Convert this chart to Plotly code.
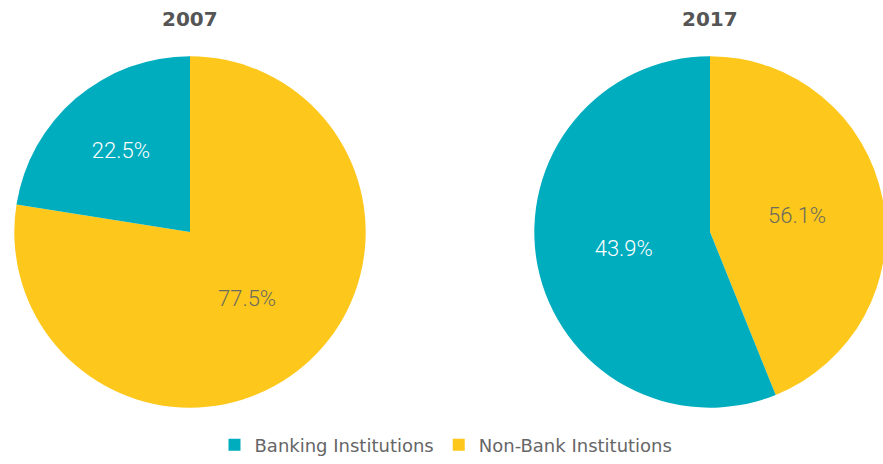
import plotly.graph_objects as go

years = ["2007", "2017"]
# slice order as drawn clockwise from 12 o'clock
categories = ["Non-Bank Institutions", "Banking Institutions"]
# slice sizes as drawn in the picture
shares_2007 = [77.5, 22.5]
shares_2017 = [43.9, 56.1]
# labels as printed on the picture
text_2007 = ["77.5%", "22.5%"]
text_2017 = ["56.1%", "43.9%"]

colors = ["#FEC71B", "#00ADBE"]
text_colors = ["#6B6B5E", "#FFFFFF"]

W, H = 888, 464  # right pie overhangs the 883px window, as in the reference

def dom(x0, x1, top, bottom):
    return dict(x=[x0 / W, x1 / W], y=[(H - bottom) / H, (H - top) / H])

domains = [dom(12, 368, 57, 413), dom(532, 888, 57, 413)]

fig = go.Figure()
for yr, vals, txt, d in [
    (years[0], shares_2007, text_2007, domains[0]),
    (years[1], shares_2017, text_2017, domains[1]),
]:
    fig.add_trace(go.Pie(
        labels=categories, values=vals, text=txt,
        textinfo="text", textposition="inside",
        insidetextorientation="horizontal",
        sort=False, direction="clockwise", rotation=0,
        marker=dict(colors=colors, line=dict(width=0)),
        textfont=dict(family="Roboto", size=22, weight=300, color=text_colors),
        domain=d, hoverinfo="label+text",
    ))

for yr, cx in zip(years, [190, 710]):
    fig.add_annotation(
        text="<b>" + yr + "</b>", xref="paper", yref="paper",
        x=cx / W, y=(H - 19) / H,
        xanchor="center", yanchor="middle", showarrow=False,
        font=dict(family="DejaVu Sans", size=20, color="#555555"),
    )

fig.update_layout(
    width=W, height=H,
    margin=dict(l=0, r=0, t=0, b=0),
    paper_bgcolor="white", plot_bgcolor="white",
    showlegend=True,
    legend=dict(orientation="h", x=446 / W, xanchor="center",
                y=(H - 451) / H, yanchor="middle",
                font=dict(family="DejaVu Sans", size=18, color="#666666"),
                itemwidth=30, traceorder="reversed"),
)

fig.write_html(
    "out.html",
    config={"displayModeBar": False, "responsive": False},
    post_script=(
        "document.documentElement.style.overflow='hidden';"
        "document.body.style.margin='0';"
        "document.body.style.overflow='hidden';"
        "document.body.style.height='464px';"
        "document.body.style.width='883px';"
    ),
)
